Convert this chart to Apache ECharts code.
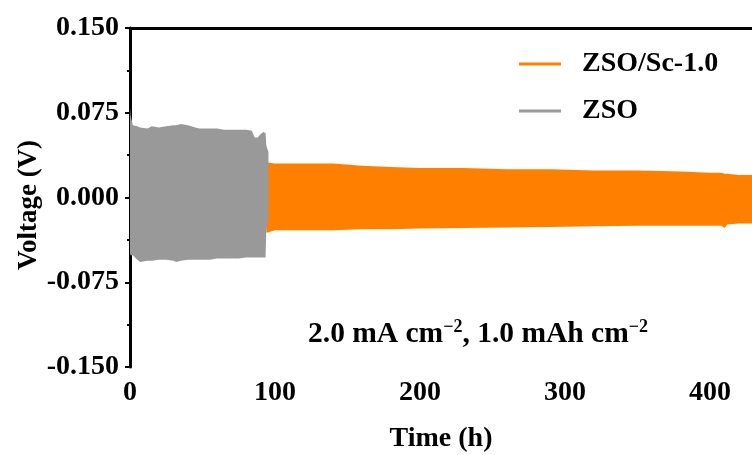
<!DOCTYPE html>
<html>
<head>
<meta charset="utf-8">
<script src="https://cdn.jsdelivr.net/npm/echarts@6/dist/echarts.min.js"></script>
<style>
  html, body { margin: 0; padding: 0; background: #fff; }
  #chart { width: 752px; height: 455px; }
</style>
</head>
<body>
<div id="chart"></div>
<script>
  // envelope of the dense cycling traces
  const zsoTime = [0, 0.5, 2, 5, 7, 12, 15, 20, 25, 30, 32, 35, 40, 45, 48, 55, 60, 65, 71, 75, 80, 84, 86, 88, 90, 92, 93.5, 94, 95.5];
  const zsoUpper = [0.079, 0.072, 0.064, 0.063, 0.062, 0.061, 0.063, 0.062, 0.063, 0.064, 0.064, 0.065, 0.064, 0.062, 0.061, 0.061, 0.061, 0.060, 0.060, 0.060, 0.060, 0.059, 0.053, 0.053, 0.056, 0.058, 0.057, 0.046, 0.040];
  const zsoLower = [-0.050, -0.051, -0.051, -0.055, -0.057, -0.056, -0.056, -0.055, -0.055, -0.056, -0.057, -0.056, -0.055, -0.055, -0.055, -0.055, -0.054, -0.054, -0.054, -0.054, -0.053, -0.053, -0.053, -0.053, -0.053, -0.053, -0.053, -0.029, -0.020];

  const scTime = [94, 95, 100, 120, 140, 160, 180, 200, 230, 260, 290, 320, 350, 380, 400, 408, 410, 412, 420, 429];
  const scUpper = [0.031, 0.031, 0.030, 0.030, 0.030, 0.028, 0.027, 0.026, 0.026, 0.025, 0.025, 0.024, 0.024, 0.023, 0.022, 0.022, 0.021, 0.021, 0.020, 0.020];
  const scLower = [-0.031, -0.031, -0.029, -0.029, -0.029, -0.028, -0.028, -0.0275, -0.027, -0.0265, -0.026, -0.0255, -0.025, -0.025, -0.025, -0.025, -0.027, -0.024, -0.023, -0.023];

  const seriesNames = ['ZSO/Sc-1.0', 'ZSO'];
  const xTicks = [0, 100, 200, 300, 400];

  const font = '"Liberation Serif", "Times New Roman", serif';

  function band(times, upper, lower, color) {
    return function (params, api) {
      const pts = [];
      for (let i = 0; i < times.length; i++) pts.push(api.coord([times[i], upper[i]]));
      for (let i = times.length - 1; i >= 0; i--) pts.push(api.coord([times[i], lower[i]]));
      return { type: 'polygon', shape: { points: pts }, style: { fill: color } };
    };
  }

  const chart = echarts.init(document.getElementById('chart'));
  chart.setOption({
    backgroundColor: '#fff',
    animation: false,
    grid: { left: 130, right: 0, top: 28, bottom: 88, outerBoundsMode: 'none', containLabel: false },
    legend: {
      orient: 'vertical',
      left: 514,
      top: 45,
      itemWidth: 42,
      itemHeight: 3,
      itemGap: 19,
      icon: 'rect',
      data: seriesNames,
      textStyle: { fontFamily: font, fontWeight: 'bold', fontSize: 28, color: '#000', padding: [0, 0, 0, 16] }
    },
    xAxis: [{
      type: 'value',
      min: 0,
      max: 429,
      interval: 100,
      name: 'Time (h)',
      nameLocation: 'middle',
      nameGap: 58,
      nameTextStyle: { fontFamily: font, fontWeight: 'bold', fontSize: 28, color: '#000' },
      axisLine: { lineStyle: { color: '#000', width: 3 } },
      axisTick: { inside: false, length: 5, lineStyle: { width: 2, color: '#000' } },
      minorTick: { show: true, splitNumber: 2, length: 3, lineStyle: { width: 2, color: '#000' } },
      splitLine: { show: false },
      axisLabel: {
        margin: 12,
        fontFamily: font, fontWeight: 'bold', fontSize: 28, color: '#000',
        formatter: v => xTicks.indexOf(v) >= 0 ? String(v) : ''
      }
    }, {
      type: 'value',
      position: 'top',
      min: 0,
      max: 429,
      axisLine: { show: true, lineStyle: { color: '#000', width: 3 } },
      axisTick: { show: false },
      axisLabel: { show: false },
      splitLine: { show: false }
    }],
    yAxis: {
      type: 'value',
      min: -0.15,
      max: 0.15,
      interval: 0.075,
      axisLine: { show: true, lineStyle: { color: '#000', width: 3 } },
      axisTick: { inside: false, length: 5, lineStyle: { width: 2, color: '#000' } },
      minorTick: { show: true, splitNumber: 2, length: 3, lineStyle: { width: 2, color: '#000' } },
      splitLine: { show: false },
      axisLabel: {
        margin: 11,
        fontFamily: font, fontWeight: 'bold', fontSize: 28, color: '#000',
        formatter: v => v.toFixed(3)
      }
    },
    graphic: [{
      type: 'text',
      x: 29,
      y: 205,
      rotation: Math.PI / 2,
      style: {
        text: 'Voltage (V)',
        align: 'center',
        verticalAlign: 'middle',
        fontFamily: font, fontWeight: 'bold', fontSize: 27, fill: '#000'
      }
    }, {
      type: 'text',
      left: 308,
      top: 318,
      style: {
        text: '{t|2.0 mA cm}{s|−2}{t|, 1.0 mAh cm}{s|−2}',
        rich: {
          t: { fontFamily: font, fontWeight: 'bold', fontSize: 29.5, fill: '#000' },
          s: { fontFamily: font, fontWeight: 'bold', fontSize: 18, fill: '#000', padding: [0, 0, 14, 0] }
        }
      }
    }],
    series: [{
      name: 'ZSO/Sc-1.0',
      type: 'custom',
      itemStyle: { color: '#ff8000' },
      data: [[0, 0]],
      renderItem: band(scTime, scUpper, scLower, '#ff8000')
    }, {
      name: 'ZSO',
      type: 'custom',
      itemStyle: { color: '#999999' },
      data: [[0, 0]],
      renderItem: band(zsoTime, zsoUpper, zsoLower, '#999999')
    }]
  });
</script>
</body>
</html>
